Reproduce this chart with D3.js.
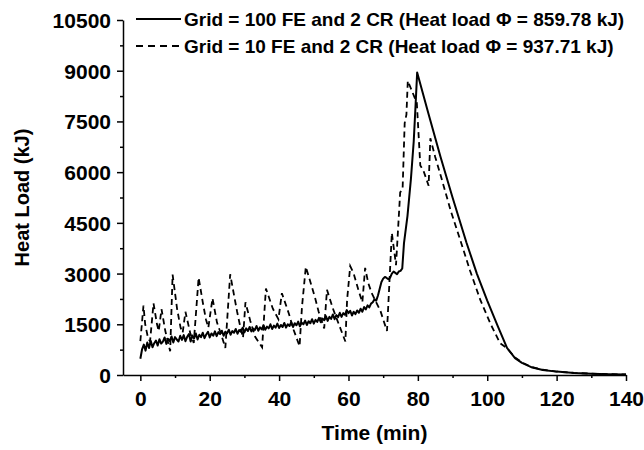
<!DOCTYPE html>
<html>
<head>
<meta charset="utf-8">
<script src="https://cdn.jsdelivr.net/npm/d3@7"></script>
<style>
  body { margin: 0; background: #fff; }
  text { font-family: Arial, "Liberation Sans", sans-serif; font-weight: bold; }
</style>
</head>
<body>
<div id="chart"></div>
<script>
// Tick values for both axes
const xTicks = [0, 20, 40, 60, 80, 100, 120, 140];
const xMinor = [10, 30, 50, 70, 90, 110, 130];
const yTicks = [0, 1500, 3000, 4500, 6000, 7500, 9000, 10500];
const yMinor = [750, 2250, 3750, 5250, 6750, 8250, 9750];

const legendLabels = [
  "Grid = 100 FE and 2 CR (Heat load \u03A6 = 859.78 kJ)",
  "Grid = 10 FE and 2 CR (Heat load \u03A6 = 937.71 kJ)"
];

// Grid = 100 FE and 2 CR : [time (min), heat load (kJ)]
const fine = [
  [0, 480], [0.5, 760], [1, 900], [1.5, 720], [2, 960], [2.5, 800], [3, 1010], [3.5, 820],
  [4, 940], [4.5, 1020], [5, 870], [5.5, 1060], [6, 930], [6.5, 990], [7, 1110], [7.5, 920],
  [8, 1070], [8.5, 1000], [9, 1140], [9.5, 960], [10, 1120], [10.5, 1050], [11, 990], [11.5, 1160],
  [12, 1040], [12.5, 1180], [13, 1000], [13.5, 1130], [14, 1210], [14.5, 990], [15, 1170], [15.5, 1080],
  [16, 1230], [16.5, 1050], [17, 1190], [17.5, 1120], [18, 1250], [18.5, 1090], [19, 1200], [19.5, 1280],
  [20, 1110], [20.5, 1230], [21, 1160], [21.5, 1290], [22, 1150], [22.5, 1270], [23, 1210], [23.5, 1310],
  [24, 1160], [24.5, 1280], [25, 1230], [25.5, 1340], [26, 1190], [26.5, 1300], [27, 1250], [27.5, 1360],
  [28, 1220], [28.5, 1330], [29, 1280], [29.5, 1400], [30, 1260], [30.5, 1380], [31, 1300], [31.5, 1420],
  [32, 1290], [32.5, 1370], [33, 1330], [33.5, 1450], [34, 1310], [34.5, 1410], [35, 1350], [35.5, 1470],
  [36, 1340], [36.5, 1430], [37, 1380], [37.5, 1500], [38, 1360], [38.5, 1460], [39, 1400], [39.5, 1520],
  [40, 1390], [40.5, 1480], [41, 1420], [41.5, 1540], [42, 1400], [42.5, 1500], [43, 1450], [43.5, 1560],
  [44, 1420], [44.5, 1530], [45, 1470], [45.5, 1580], [46, 1440], [46.5, 1550], [47, 1500], [47.5, 1610],
  [48, 1480], [48.5, 1590], [49, 1530], [49.5, 1650], [50, 1520], [50.5, 1630], [51, 1570], [51.5, 1690],
  [52, 1560], [52.5, 1670], [53, 1620], [53.5, 1740], [54, 1600], [54.5, 1720], [55, 1660], [55.5, 1790],
  [56, 1650], [56.5, 1770], [57, 1710], [57.5, 1840], [58, 1720], [58.5, 1830], [59, 1780], [59.5, 1920],
  [60, 1830], [60.5, 1900], [61, 1760], [61.5, 1870], [62, 1800], [62.5, 1910], [63, 1840], [63.5, 1960],
  [64, 1870], [64.5, 2010], [65, 1940], [65.5, 2060], [66, 2000], [66.5, 2110], [67, 2150], [67.5, 2240],
  [68, 2200], [68.5, 2350], [69, 2550], [69.5, 2750], [70, 2850], [70.5, 2900], [71, 2870], [71.5, 2830],
  [72, 2880], [72.5, 3000], [73, 3060], [73.5, 3020], [74, 2980], [74.5, 3060], [75, 3080], [75.5, 3150],
  [76, 3900], [77, 4700], [78, 5800], [78.8, 6900], [79.3, 7900], [79.8, 8950],
  [83, 7750], [86.5, 6460], [90, 5250], [94, 3920], [97, 3000], [100, 2200], [103, 1450], [105.7, 800],
  [108, 500], [110, 360], [113, 220], [116, 150], [120, 100], [125, 60], [130, 40], [135, 25], [140, 15]
];

// Grid = 10 FE and 2 CR : [time (min), heat load (kJ)]
const coarse = [
  [0, 1000], [0.9, 2050], [1.4, 1500], [2.2, 1100], [2.8, 1000], [3.8, 2120], [4.8, 1500], [5.3, 1300],
  [6.1, 1950], [7.2, 1300], [8.6, 700], [9.3, 2970], [10.6, 1950], [11.6, 1400], [12.2, 1250], [13, 1870],
  [14.4, 1230], [15.4, 950], [16.8, 2880], [18, 2150], [18.9, 1650], [19.6, 1400], [20.8, 2270], [22.1, 1550],
  [23.3, 1200], [24.5, 800], [25.9, 2980], [26.9, 2420], [27.9, 1870], [28.8, 1430], [29.6, 1100], [30.3, 2150],
  [31.7, 1600], [33.1, 1130], [35.1, 820], [36.2, 2560], [38.2, 1960], [39.8, 1650], [40.8, 2420], [42.8, 1820],
  [44.2, 1330], [45.9, 850], [46.6, 2020], [47.7, 3200], [49, 2760], [50.4, 2270], [51.4, 1870], [53, 1380],
  [53.8, 2520], [55.5, 1970], [57.1, 1530], [59.1, 990], [59.6, 2220], [60.5, 3220], [61.5, 3000], [62.9, 2500],
  [64, 2150], [64.8, 3170], [65.7, 2720], [66.7, 2420], [68, 2150], [69.2, 1900], [71.1, 1300], [71.6, 2320],
  [72.5, 4200], [73.7, 3250], [74.9, 5400], [75.6, 5500], [76.2, 7450], [76.7, 7700], [77.1, 8700], [78.3, 8400],
  [79.7, 8050], [80.7, 6200], [81.6, 6050], [83.1, 5600], [83.6, 7000], [85, 6450], [87, 5750], [89.5, 4850],
  [92.2, 4000], [95, 3100], [98, 2220], [101, 1500], [103.7, 940], [105.7, 790], [108, 520], [110, 370],
  [113, 230], [116, 155], [120, 100], [125, 62], [130, 40], [135, 26], [140, 16]
];

const width = 644;
const height = 450;

const svg = d3.select("#chart")
  .append("svg")
  .attr("width", width)
  .attr("height", height);

const x = d3.scaleLinear().domain([-5, 140]).range([123, 626]);
const y = d3.scaleLinear().domain([0, 10500]).range([375, 20]);

// x axis: major + minor ticks
const xAxis = svg.append("g")
  .attr("transform", `translate(0,${y(0)})`)
  .call(d3.axisBottom(x).tickValues(xTicks).tickFormat(d3.format("d"))
    .tickSize(6).tickSizeOuter(0).tickPadding(8));
svg.append("g")
  .attr("transform", `translate(0,${y(0)})`)
  .call(d3.axisBottom(x).tickValues(xMinor).tickSize(3).tickFormat("").tickSizeOuter(0))
  .select(".domain").remove();

// y axis: major + minor ticks
const yAxis = svg.append("g")
  .attr("transform", `translate(${x(-5)},0)`)
  .call(d3.axisLeft(y).tickValues(yTicks).tickFormat(d3.format("d"))
    .tickSize(6).tickSizeOuter(0).tickPadding(6));
svg.append("g")
  .attr("transform", `translate(${x(-5)},0)`)
  .call(d3.axisLeft(y).tickValues(yMinor).tickSize(3).tickFormat("").tickSizeOuter(0))
  .select(".domain").remove();

svg.selectAll(".domain, .tick line")
  .attr("stroke", "#000")
  .attr("stroke-width", 1.5);

svg.selectAll(".tick text")
  .attr("fill", "#000")
  .style("font-size", "21px")
  .style("font-family", "Arial, 'Liberation Sans', sans-serif")
  .style("font-weight", "bold");

xAxis.selectAll(".tick text").attr("dy", "0.8em");
yAxis.selectAll(".tick text").attr("dy", "0.36em");

// axis titles
svg.append("text")
  .attr("x", (x(-5) + x(140)) / 2)
  .attr("y", 440)
  .attr("text-anchor", "middle")
  .style("font-size", "21px")
  .text("Time (min)");

svg.append("text")
  .attr("transform", `translate(29,${(y(0) + y(10500)) / 2}) rotate(-90)`)
  .attr("text-anchor", "middle")
  .style("font-size", "20px")
  .text("Heat Load (kJ)");

// lines
const line = d3.line()
  .x(d => x(d[0]))
  .y(d => y(d[1]));

svg.append("path")
  .datum(coarse)
  .attr("fill", "none")
  .attr("stroke", "#000")
  .attr("stroke-width", 1.8)
  .attr("stroke-dasharray", "6,4")
  .attr("d", line);

svg.append("path")
  .datum(fine)
  .attr("fill", "none")
  .attr("stroke", "#000")
  .attr("stroke-width", 2)
  .attr("stroke-linejoin", "round")
  .attr("d", line);

// legend
const legend = svg.append("g").attr("transform", "translate(136,0)");
const legendRows = legend.selectAll("g")
  .data(legendLabels)
  .enter().append("g")
  .attr("transform", (d, i) => `translate(0,${19 + i * 27})`);

legendRows.append("line")
  .attr("x1", 0)
  .attr("x2", 45)
  .attr("stroke", "#000")
  .attr("stroke-width", (d, i) => i === 0 ? 2 : 1.8)
  .attr("stroke-dasharray", (d, i) => i === 0 ? null : "7,5");

legendRows.append("text")
  .attr("x", 48)
  .attr("dy", "0.36em")
  .style("font-size", "19px")
  .text(d => d);
</script>
</body>
</html>
